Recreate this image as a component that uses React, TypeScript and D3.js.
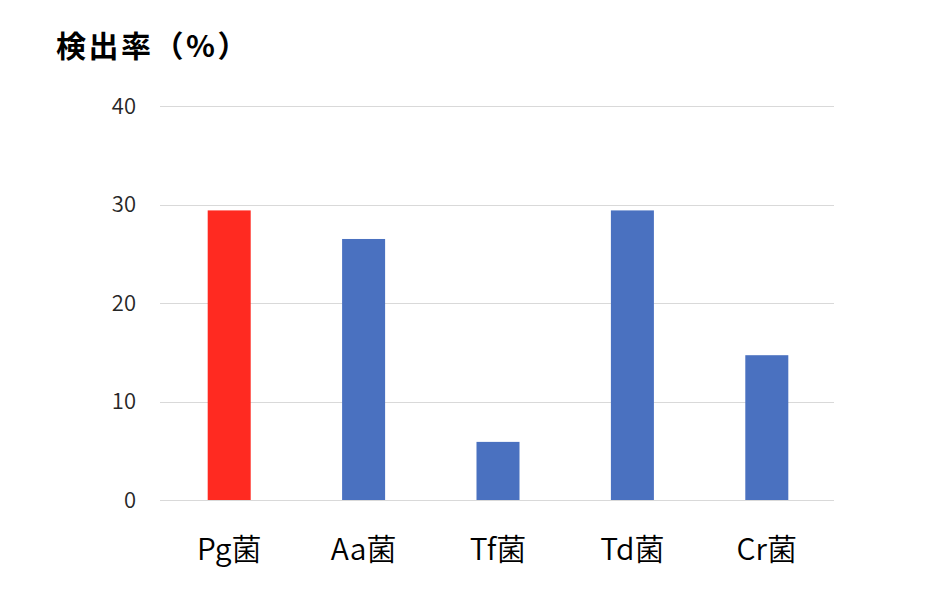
import React from "react";
import * as d3 from "d3";

const categories = ["Pg菌", "Aa菌", "Tf菌", "Td菌", "Cr菌"];
const values = [29.4, 26.5, 5.9, 29.4, 14.7];
const barColors = ["#ff2a21", "#4a71c0", "#4a71c0", "#4a71c0", "#4a71c0"];
const yTicks = [0, 10, 20, 30, 40];
const title = "検出率（%）";

const W = 938;
const H = 601;
const margin = { left: 162, right: 104, top: 106, bottom: 101 };
const font = "'Noto Sans CJK JP', 'Noto Sans', sans-serif";

export default function App() {
  const x = d3
    .scaleBand<string>()
    .domain(categories)
    .range([margin.left, W - margin.right])
    .paddingInner(0.68)
    .paddingOuter(0.34);
  const y = d3.scaleLinear().domain([0, 40]).range([H - margin.bottom, margin.top]);

  return (
    <svg
      width={W}
      height={H}
      style={{ position: "absolute", left: 0, top: 0, background: "#fff" }}
      fontFamily={font}
    >
      <text x={56} y={57} fontSize={30} fontWeight="bold" fill="#000" letterSpacing={2.5}>
        {title}
      </text>
      {yTicks.map((t) => (
        <g key={t}>
          <line
            x1={160}
            x2={834}
            y1={Math.round(y(t)) + 0.5}
            y2={Math.round(y(t)) + 0.5}
            stroke="#d9d9d9"
            strokeWidth={1}
          />
          <text
            x={136}
            y={y(t)}
            dy="0.36em"
            textAnchor="end"
            fontSize={22}
            fontWeight={350}
            fill="#262626"
          >
            {t}
          </text>
        </g>
      ))}
      {categories.map((c, i) => (
        <g key={c}>
          <rect
            x={x(c)}
            y={y(values[i])}
            width={x.bandwidth()}
            height={y(0) - y(values[i])}
            fill={barColors[i]}
          />
          <text
            x={(x(c) as number) + x.bandwidth() / 2}
            y={560}
            textAnchor="middle"
            fontSize={30}
            fontWeight={350}
            fill="#000"
          >
            {c}
          </text>
        </g>
      ))}
    </svg>
  );
}
